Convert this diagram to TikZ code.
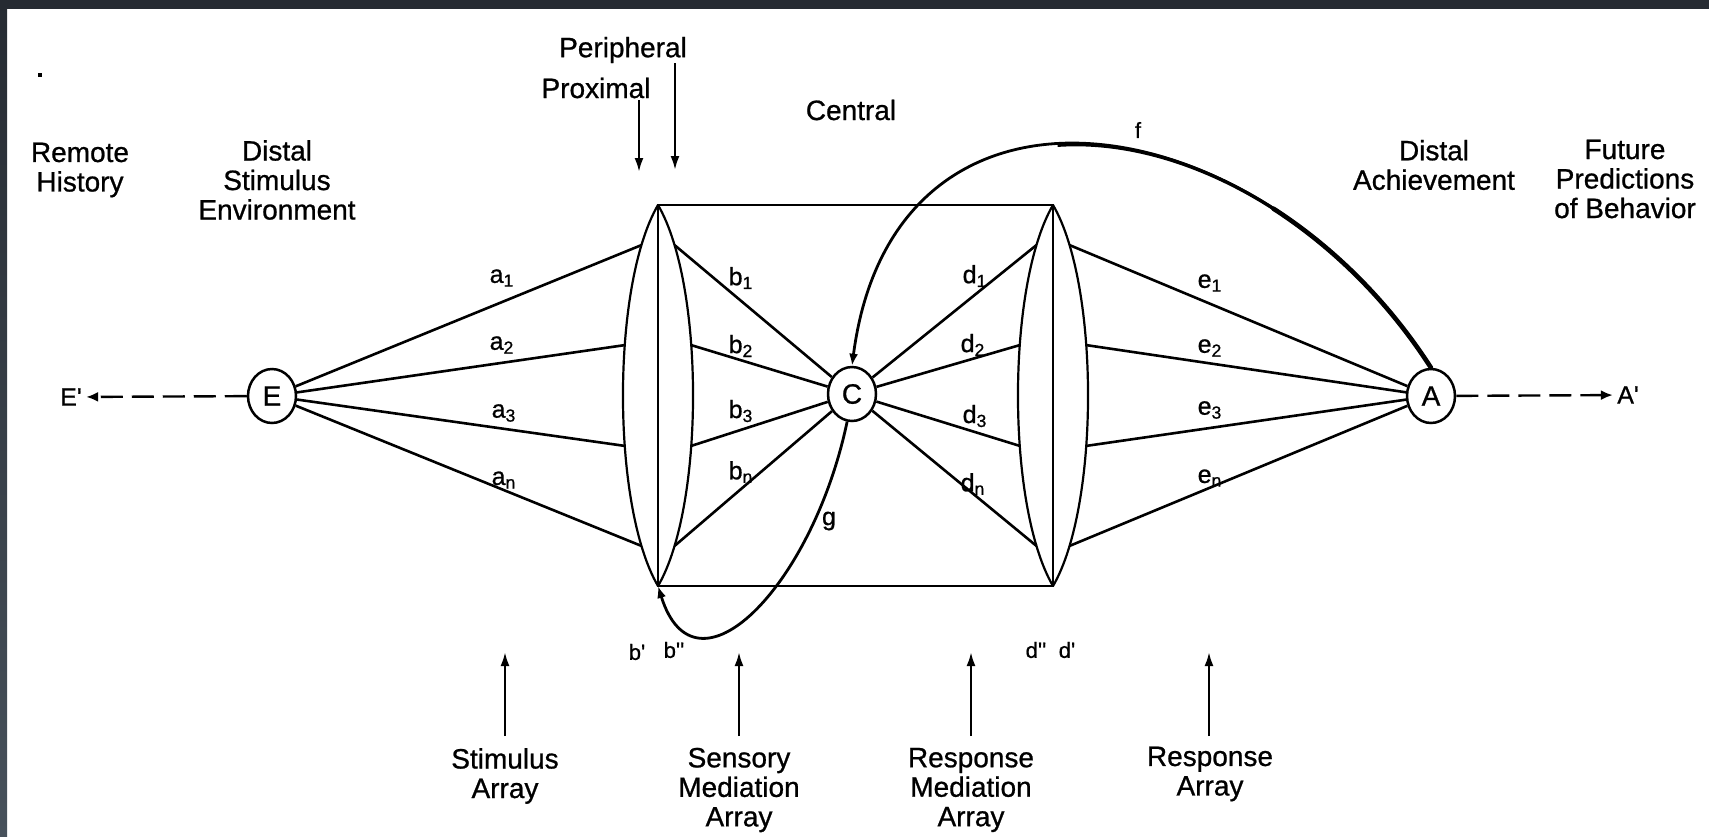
\documentclass[tikz,border=0pt]{standalone}
\usepackage{fontspec}
\setmainfont{Liberation Sans}
\newfontfamily\heavyfont{Liberation Sans}[FakeBold=0.8]
\usetikzlibrary{arrows.meta,shapes.geometric}
\newcommand{\myprime}{\textquotesingle}
\definecolor{framecol}{HTML}{262B32}
\definecolor{framebot}{HTML}{47515B}
\begin{document}
\begin{tikzpicture}[x=0.5pt,y=-0.5pt,
  every node/.style={inner sep=0pt},
  lab/.style={font=\heavyfont\fontsize{14}{14.75}\selectfont, align=center},
  spklab/.style={font=\heavyfont\fontsize{12.5}{13}\selectfont},
  smalllab/.style={font=\heavyfont\fontsize{11}{12}\selectfont},
  primelab/.style={font=\heavyfont\fontsize{12.5}{13}\selectfont, inner sep=2pt},
  cnode/.style={draw, line width=1.25pt, ellipse, minimum width=24pt, minimum height=27pt, font=\heavyfont\fontsize{14}{14}\selectfont},
  spoke/.style={line width=1.3pt},
  lensarc/.style={line width=1.1pt},
  rectline/.style={line width=1.4pt},
  arr/.style={line width=1.2pt, -{Latex[length=7pt,width=4.5pt]}},
  dasharr/.style={line width=1.2pt, dash pattern=on 11pt off 4.5pt, -{Latex[length=6pt,width=5pt]}},
  curvearr/.style={line width=1.4pt, -{Latex[length=6pt,width=4.5pt]}}
]
\useasboundingbox (0,0) rectangle (1709,836);
\fill[white] (0,0) rectangle (1709,836);
\shade[top color=framecol, bottom color=framebot] (0,0) rectangle (7,836);
\fill[framecol] (0,0) rectangle (1709,9);
\fill (38,73) rectangle (42,77);

% headings
\node[lab] (remote) at (80,170) {Remote\\History};
\node[lab] (distal) at (277,180) {Distal\\Stimulus\\Environment};
\node[lab] (periph) at (623,50) {Peripheral};
\node[lab] (prox) at (596,88) {Proximal};
\node[lab] (central) at (851,110) {Central};
\node[lab] (distach) at (1434,165) {Distal\\Achievement};
\node[lab] (future) at (1625,179) {Future\\Predictions\\of Behavior};

\coordinate (proxtop) at (639,100);
\coordinate (proxtip) at (639,172);
\coordinate (pertop) at (675,63);
\coordinate (pertip) at (675,170);
\draw[arr] (proxtop) -- (proxtip);
\draw[arr] (pertop) -- (pertip);

% circles
\node[cnode] (E) at (272,396) {E};
\node[cnode] (C) at (852,394) {C};
\node[cnode] (A) at (1431,396) {A};
\node[primelab] (Ep) at (71,397) {E\myprime};
\node[primelab] (Ap) at (1628,395) {A\myprime};
\draw[dasharr] (E) -- (Ep);
\draw[dasharr] (A) -- (Ap);

% rectangle and lenses
\coordinate (L1t) at (658,205);
\coordinate (L1b) at (658,586);
\coordinate (L2t) at (1053,205);
\coordinate (L2b) at (1053,586);
\draw[rectline] (L1t) -- (L2t) -- (L2b) -- (L1b) -- cycle;
\draw[lensarc] (L1t) .. controls +(-46.7,80) and +(-46.7,-80) .. (L1b)
  coordinate[pos=0.137] (la1) coordinate[pos=0.3875] (la2)
  coordinate[pos=0.6125] (la3) coordinate[pos=0.863] (la4);
\draw[lensarc] (L1t) .. controls +(46.7,80) and +(46.7,-80) .. (L1b)
  coordinate[pos=0.137] (lb1) coordinate[pos=0.3875] (lb2)
  coordinate[pos=0.6125] (lb3) coordinate[pos=0.863] (lb4);
\draw[lensarc] (L2t) .. controls +(-46.7,80) and +(-46.7,-80) .. (L2b)
  coordinate[pos=0.137] (ld1) coordinate[pos=0.3875] (ld2)
  coordinate[pos=0.6125] (ld3) coordinate[pos=0.863] (ld4);
\draw[lensarc] (L2t) .. controls +(46.7,80) and +(46.7,-80) .. (L2b)
  coordinate[pos=0.137] (le1) coordinate[pos=0.3875] (le2)
  coordinate[pos=0.6125] (le3) coordinate[pos=0.863] (le4);

% spokes
\foreach \i in {1,2,3,4}{
  \draw[spoke] (E) -- (la\i);
  \draw[spoke] (lb\i) -- (C);
  \draw[spoke] (C) -- (ld\i);
  \draw[spoke] (le\i) -- (A);
}

% spoke labels
\node[spklab] (a1) at (502,278) {a\textsubscript{1}};
\node[spklab] (a2) at (502,345) {a\textsubscript{2}};
\node[spklab] (a3) at (504,413) {a\textsubscript{3}};
\node[spklab] (an) at (504,480) {a\textsubscript{n}};
\node[spklab] (b1) at (741,278) {b\textsubscript{1}};
\node[spklab] (b2) at (741,346) {b\textsubscript{2}};
\node[spklab] (b3) at (741,411) {b\textsubscript{3}};
\node[spklab] (bn) at (741,472) {b\textsubscript{n}};
\node[spklab] (d1) at (975,276) {d\textsubscript{1}};
\node[spklab] (d2) at (973,345) {d\textsubscript{2}};
\node[spklab] (d3) at (975,416) {d\textsubscript{3}};
\node[spklab] (dn) at (973,484) {d\textsubscript{n}};
\node[spklab] (e1) at (1210,283) {e\textsubscript{1}};
\node[spklab] (e2) at (1210,348) {e\textsubscript{2}};
\node[spklab] (e3) at (1210,410) {e\textsubscript{3}};
\node[spklab] (en) at (1210,478) {e\textsubscript{n}};

% feedback curves
\draw[curvearr] (A.north) .. controls +(-173,-269) and +(42,-322) .. (C.north)
  coordinate[pos=0.25] (fq1) coordinate[pos=0.55] (fq2);
\draw[line width=1.7pt] (A.north) .. controls +(-95.2,-148) and +(125.4,-8.7) .. (fq2);
\draw[line width=2.3pt, line cap=round] (A.north) .. controls +(-43.25,-67.25) and +(59,38) .. (fq1);
\node[smalllab] (flab) at (1138,130) {f};
\draw[curvearr] (C.260) .. controls +(-35,166) and +(37,119) .. (L1b);
\node[spklab] (glab) at (829,521) {g};

% primes under the lenses
\node[smalllab] (bp) at (637,652) {b\myprime};
\node[smalllab] (bpp) at (674,650) {b\myprime\myprime};
\node[smalllab] (dpp) at (1036,650) {d\myprime\myprime};
\node[smalllab] (dp) at (1067,650) {d\myprime};

% bottom labels and arrows
\node[lab] (stim) at (505,776) {Stimulus\\Array};
\node[lab] (sens) at (739,790) {Sensory\\Mediation\\Array};
\node[lab] (rmed) at (971,790) {Response\\Mediation\\Array};
\node[lab] (rarr) at (1210,774) {Response\\Array};
\coordinate (stimtail) at (505,736);
\coordinate (stimtip) at (505,652);
\coordinate (senstail) at (739,736);
\coordinate (senstip) at (739,652);
\coordinate (rmedtail) at (971,736);
\coordinate (rmedtip) at (971,652);
\coordinate (rarrtail) at (1209,736);
\coordinate (rarrtip) at (1209,652);
\draw[arr] (stimtail) -- (stimtip);
\draw[arr] (senstail) -- (senstip);
\draw[arr] (rmedtail) -- (rmedtip);
\draw[arr] (rarrtail) -- (rarrtip);
\end{tikzpicture}
\end{document}
